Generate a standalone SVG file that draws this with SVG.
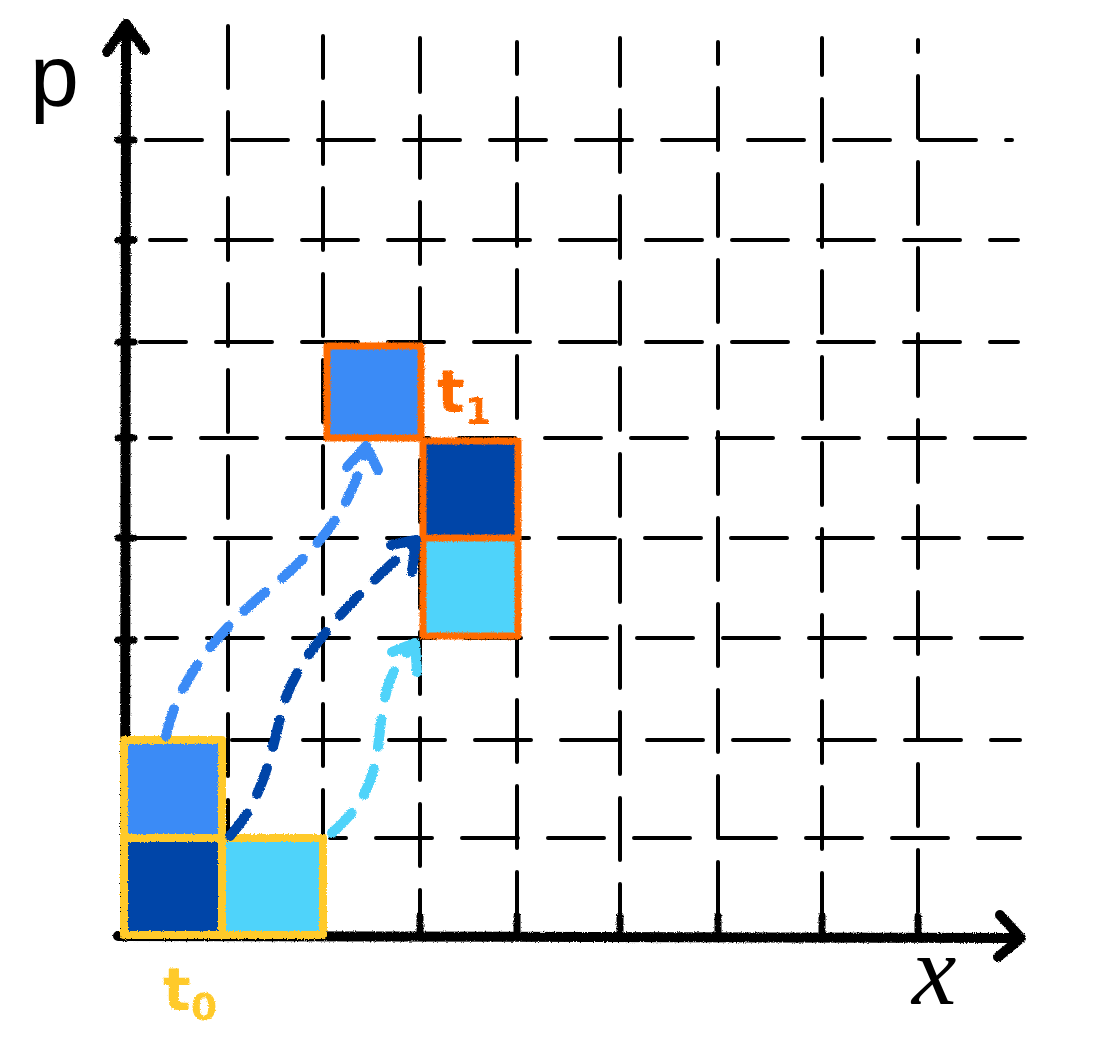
<svg xmlns="http://www.w3.org/2000/svg" width="1114" height="1040" viewBox="0 0 1114 1040">
<defs>
  <filter id="rough" x="-5%" y="-5%" width="110%" height="110%">
    <feTurbulence type="fractalNoise" baseFrequency="0.9" numOctaves="2" seed="3" result="n"/>
    <feDisplacementMap in="SourceGraphic" in2="n" scale="3" xChannelSelector="R" yChannelSelector="G"/>
  </filter>
  <filter id="crayon" x="-5%" y="-5%" width="110%" height="110%">
    <feTurbulence type="fractalNoise" baseFrequency="0.7" numOctaves="2" seed="7" result="n"/>
    <feDisplacementMap in="SourceGraphic" in2="n" scale="3" xChannelSelector="R" yChannelSelector="G"/>
  </filter>
</defs>
<style>
  .v { stroke:#000; stroke-width:4; stroke-linecap:round; stroke-dasharray:62 24; fill:none; }
  .h { stroke:#000; stroke-width:4; stroke-linecap:round; stroke-dasharray:56 30; fill:none; }
  .axis { stroke:#000; stroke-width:10; stroke-linecap:round; stroke-linejoin:round; fill:none; }
  .tick { stroke:#000; stroke-width:7; stroke-linecap:round; }
  .mid { fill:#3B8BF6; }
  .dark { fill:#0645A8; }
  .light { fill:#4FD3FA; }
  .yel { stroke:#FFCA2C; stroke-width:8; fill:none; stroke-linejoin:round; }
  .org { stroke:#FF6A00; stroke-width:7; fill:none; stroke-linejoin:round; }
  .arr { fill:none; stroke-width:10; stroke-linecap:round; stroke-dasharray:28 22; }
  .head { fill:none; stroke-width:10; stroke-linecap:round; stroke-linejoin:round; }
  .lbl { font-family:"DejaVu Sans", sans-serif; }
</style>
<rect width="1114" height="1040" fill="#fff"/>

<g id="grid">
  <line class="v" x1="228" y1="26" x2="228" y2="932" stroke-dashoffset="0"/>
  <line class="v" x1="323" y1="36" x2="323" y2="932" stroke-dashoffset="20"/>
  <line class="v" x1="420" y1="38" x2="420" y2="918" stroke-dashoffset="8"/>
  <line class="v" x1="517" y1="42" x2="517" y2="932" stroke-dashoffset="30"/>
  <line class="v" x1="620" y1="38" x2="620" y2="918" stroke-dashoffset="14"/>
  <line class="v" x1="718" y1="42" x2="718" y2="918" stroke-dashoffset="40"/>
  <line class="v" x1="822" y1="38" x2="822" y2="918" stroke-dashoffset="25"/>
  <line class="v" x1="918" y1="40" x2="918" y2="918" stroke-dashoffset="50"/>
  <line class="h" x1="146" y1="140" x2="1012" y2="140" stroke-dashoffset="0"/>
  <line class="h" x1="150" y1="240" x2="1018" y2="240" stroke-dashoffset="20"/>
  <line class="h" x1="140" y1="342" x2="1018" y2="342" stroke-dashoffset="10"/>
  <line class="h" x1="150" y1="438" x2="1025" y2="438" stroke-dashoffset="35"/>
  <line class="h" x1="134" y1="538" x2="1022" y2="538" stroke-dashoffset="5"/>
  <line class="h" x1="146" y1="638" x2="1022" y2="638" stroke-dashoffset="25"/>
  <line class="h" x1="232" y1="740" x2="1020" y2="740" stroke-dashoffset="15"/>
  <line class="h" x1="330" y1="838" x2="1020" y2="838" stroke-dashoffset="40"/>
</g>

<g id="axes" filter="url(#rough)">
  <line class="axis" x1="125" y1="937" x2="126" y2="24"/>
  <polyline class="axis" points="107,52 126,24 145,50"/>
  <line class="axis" x1="118" y1="936" x2="1020" y2="938"/>
  <polyline class="axis" points="1000,915 1021,938 998,957"/>
  <g class="tick">
    <line x1="118" y1="140" x2="134" y2="140"/>
    <line x1="118" y1="240" x2="134" y2="240"/>
    <line x1="118" y1="342" x2="134" y2="342"/>
    <line x1="118" y1="438" x2="134" y2="438"/>
    <line x1="118" y1="538" x2="134" y2="538"/>
    <line x1="118" y1="640" x2="134" y2="640"/>
    <line x1="420" y1="916" x2="420" y2="934"/>
    <line x1="517" y1="916" x2="517" y2="934"/>
    <line x1="620" y1="916" x2="620" y2="934"/>
    <line x1="718" y1="916" x2="718" y2="934"/>
    <line x1="822" y1="916" x2="822" y2="934"/>
    <line x1="918" y1="916" x2="918" y2="934"/>
  </g>
</g>

<g id="t0-cells" filter="url(#crayon)">
  <rect class="mid" x="126" y="742" width="96" height="96"/>
  <rect class="dark" x="126" y="840" width="96" height="94"/>
  <rect class="light" x="224" y="840" width="98" height="94"/>
  <path class="yel" d="M124,740 H222 V838 H323 V935 H124 Z M124,838 H222 V935"/>
</g>

<g id="t1-cells" filter="url(#crayon)">
  <rect class="mid" x="328" y="347" width="92" height="91"/>
  <rect class="dark" x="424" y="442" width="94" height="96"/>
  <rect class="light" x="424" y="540" width="94" height="96"/>
  <rect class="org" x="327" y="346" width="94" height="92"/>
  <path class="org" d="M423,441 H518 V636 H423 Z M423,538 H518"/>
</g>

<g id="connectors" filter="url(#crayon)">
  <path class="arr" stroke="#3B8BF6" d="M166,736 C180,670 230,620 280,580 C320,545 350,510 365,452"/>
  <polyline class="head" stroke="#3B8BF6" points="347,467 366,446 378,470"/>
  <path class="arr" stroke="#0645A8" d="M230,836 C262,800 270,760 282,710 C295,660 340,610 412,545"/>
  <polyline class="head" stroke="#0645A8" points="391,545 416,540 412,572"/>
  <path class="arr" stroke="#4FD3FA" d="M332,833 C370,800 376,770 380,730 C384,690 392,665 412,648"/>
  <polyline class="head" stroke="#4FD3FA" points="392,652 415,643 417,672"/>
</g>

<g id="labels">
  <text x="30" y="106" font-family="Liberation Sans, sans-serif" font-size="88" fill="#000">p</text>
  <text x="912" y="1004" font-family="Liberation Serif, serif" font-style="italic" font-size="100" fill="#000">x</text>
  <text class="lbl" x="163" y="1010" font-size="58" font-weight="bold" fill="#FFCA2C" filter="url(#crayon)">t<tspan font-size="38" dy="10">0</tspan></text>
  <text class="lbl" x="437" y="412" font-size="58" font-weight="bold" fill="#FF6A00" filter="url(#crayon)">t<tspan font-size="38" dy="12">1</tspan></text>
</g>
</svg>
